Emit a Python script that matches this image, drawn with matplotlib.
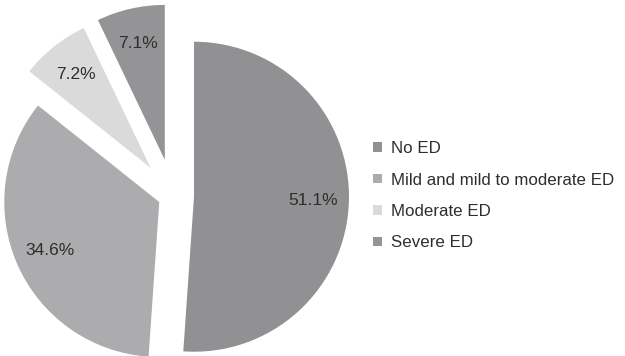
import matplotlib.pyplot as plt

labels = ["No ED", "Mild and mild to moderate ED", "Moderate ED", "Severe ED"]
values = [51.1, 34.6, 7.2, 7.1]
colors = ["#919193", "#acacae", "#dadada", "#949496"]
# offsets in px (pie explode is in data units here)
explode = [21, 15, 36, 37]

plt.rcParams['font.family'] = ['Liberation Sans', 'DejaVu Sans']

fig = plt.figure(figsize=(6.25, 3.56), dpi=100)
ax = fig.add_axes([0, 0, 1, 1])

wedges, texts, autotexts = ax.pie(
    values, colors=colors, explode=explode, startangle=90, counterclock=False,
    radius=155, center=(173, 160), autopct=lambda p: f"{p:.1f}%",
    pctdistance=0.77, wedgeprops=dict(linewidth=0),
    textprops=dict(fontsize=12.5, color="#2e2e2e"))

ax.set_xlim(0, 625)
ax.set_ylim(0, 356)
ax.set_aspect("equal")
ax.axis("off")

fig.legend(wedges, labels, loc="center left", bbox_to_anchor=(0.573, 0.45),
           frameon=False, fontsize=12.2, labelcolor="#2e2e2e",
           handlelength=0.5, handleheight=0.5, handletextpad=0.55,
           labelspacing=0.97)

fig.savefig("out.png", dpi=100)
